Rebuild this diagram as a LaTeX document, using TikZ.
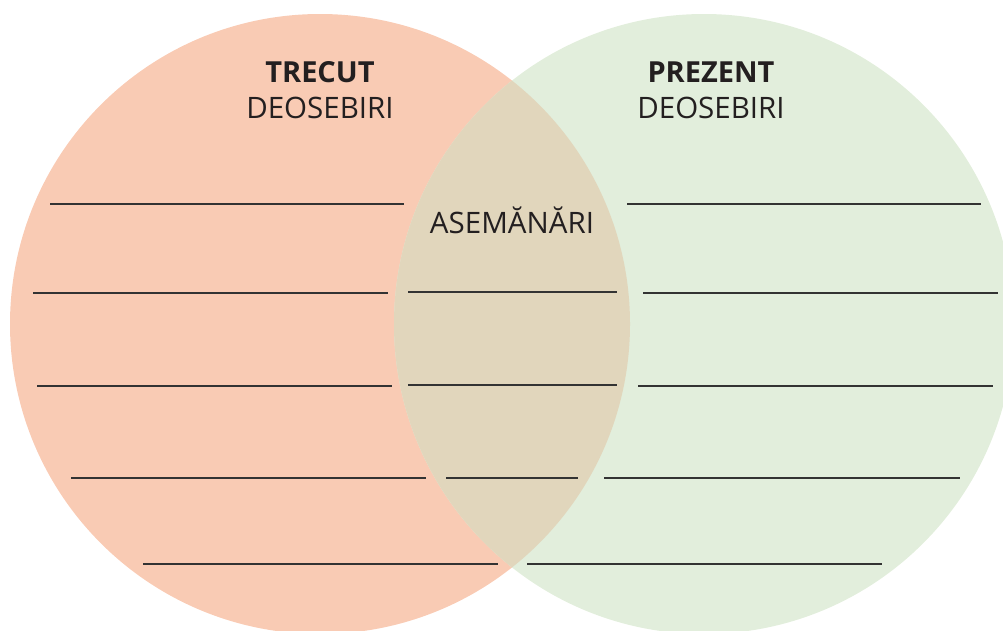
\documentclass[tikz,border=0pt]{standalone}
\usepackage{fontspec}
\setmainfont{Open Sans}
\definecolor{trecutc}{HTML}{F9CBB4}
\definecolor{prezentc}{HTML}{E2EEDC}
\definecolor{comunc}{HTML}{E1D6BC}
\definecolor{linec}{HTML}{333333}
\definecolor{textc}{HTML}{231F20}
\begin{document}
\begin{tikzpicture}[x=0.02cm,y=-0.02cm]
\tikzset{titlu/.style={font=\fontsize{16.5}{18}\selectfont\bfseries, text=textc},
    sub/.style={font=\fontsize{16.8}{18}\selectfont, text=textc},
    rand/.style={draw=linec, line width=0.8pt}}
\useasboundingbox (0,0) rectangle (1003,630);
\clip (0,0) rectangle (1003,630);
\coordinate (ctrecut) at (320,324);
\coordinate (cprezent) at (704,324);
\fill[trecutc] (ctrecut) circle (310);
\fill[prezentc] (cprezent) circle (310);
\begin{scope}
	\clip (ctrecut) circle (310);
	\fill[comunc] (cprezent) circle (310);
\end{scope}
\node[titlu] (trecut) at (320,72) {TRECUT};
\node[sub] (deotrecut) at (320,108) {DEOSEBIRI};
\node[titlu] (prezent) at (711,72) {PREZENT};
\node[sub] (deoprezent) at (711,108) {DEOSEBIRI};
\node[sub] (asemanari) at (512,220) {ASEMĂNĂRI};
% randuri de scris
\draw[rand] (50,204) -- (404,204);
\draw[rand] (627,204) -- (981,204);
\draw[rand] (33,293) -- (388,293);
\draw[rand] (408,292) -- (617,292);
\draw[rand] (643,293) -- (998,293);
\draw[rand] (37,386) -- (392,386);
\draw[rand] (408,385) -- (617,385);
\draw[rand] (638,386) -- (993,386);
\draw[rand] (71,478) -- (426,478);
\draw[rand] (446,478) -- (578,478);
\draw[rand] (604,478) -- (960,478);
\draw[rand] (143,564) -- (498,564);
\draw[rand] (527,564) -- (882,564);
\end{tikzpicture}
\end{document}
